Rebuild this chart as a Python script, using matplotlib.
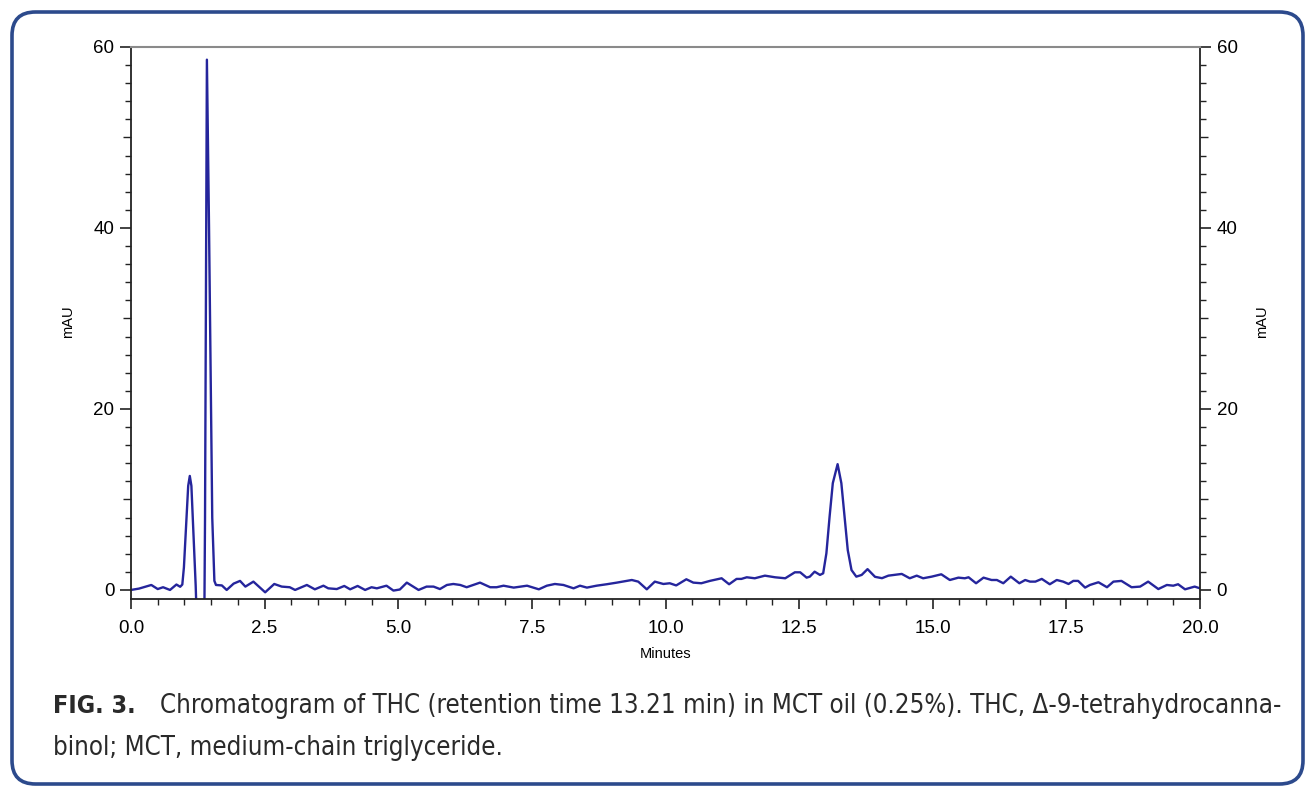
import matplotlib
matplotlib.use("Agg")
import matplotlib.pyplot as plt
from matplotlib.patches import FancyBboxPatch
from matplotlib.ticker import MultipleLocator, FixedLocator
from matplotlib import font_manager
from matplotlib.font_manager import FontProperties
import os

# ---- data ----
minutes = [0.00, 0.15, 0.38, 0.50, 0.60, 0.73, 0.85, 0.92, 0.96, 0.99, 1.03, 1.07, 1.10,
           1.13, 1.17, 1.21, 1.24, 1.37, 1.385, 1.42, 1.46, 1.52, 1.56, 1.59, 1.70, 1.79,
           1.92, 2.04, 2.14, 2.29, 2.51, 2.68, 2.82, 2.97, 3.07, 3.29, 3.44, 3.60, 3.69,
           3.85, 3.99, 4.10, 4.24, 4.38, 4.50, 4.60, 4.78, 4.91, 5.03, 5.16, 5.38, 5.53,
           5.66, 5.78, 5.91, 6.03, 6.16, 6.28, 6.53, 6.72, 6.84, 6.97, 7.16, 7.41, 7.63,
           7.78, 7.93, 8.09, 8.28, 8.40, 8.53, 8.71, 8.90, 9.09, 9.37, 9.49, 9.65, 9.80,
           9.96, 10.08, 10.20, 10.39, 10.52, 10.67, 10.83, 11.05, 11.19, 11.33, 11.42,
           11.52, 11.67, 11.86, 12.05, 12.24, 12.42, 12.52, 12.64, 12.70, 12.79, 12.89,
           12.95, 13.01, 13.07, 13.13, 13.22, 13.29, 13.35, 13.41, 13.48, 13.57, 13.67,
           13.78, 13.92, 14.05, 14.17, 14.42, 14.57, 14.70, 14.82, 14.98, 15.16, 15.32,
           15.48, 15.60, 15.67, 15.81, 15.95, 16.10, 16.20, 16.32, 16.46, 16.62, 16.73,
           16.82, 16.92, 17.04, 17.19, 17.32, 17.44, 17.54, 17.63, 17.72, 17.85, 17.94,
           18.10, 18.26, 18.38, 18.53, 18.72, 18.88, 19.03, 19.22, 19.38, 19.50, 19.59,
           19.72, 19.90, 20.00]
mau = [0.00, 0.15, 0.55, 0.10, 0.30, 0.00, 0.60, 0.35, 0.60, 2.50, 7.00, 11.50, 12.60,
       11.50, 6.00, 0.50, -5.0, -5.0, 8.00, 58.60, 40.00, 8.00, 1.00, 0.55, 0.50, 0.00,
       0.70, 1.00, 0.37, 0.92, -0.26, 0.66, 0.37, 0.30, 0.00, 0.55, 0.07, 0.47, 0.18,
       0.10, 0.44, 0.07, 0.44, 0.00, 0.30, 0.18, 0.47, -0.07, 0.05, 0.81, 0.00, 0.37,
       0.37, 0.10, 0.55, 0.66, 0.55, 0.30, 0.81, 0.30, 0.30, 0.47, 0.26, 0.47, 0.07,
       0.47, 0.66, 0.55, 0.18, 0.47, 0.26, 0.47, 0.63, 0.81, 1.10, 0.92, 0.07, 0.92,
       0.66, 0.74, 0.50, 1.18, 0.81, 0.74, 1.00, 1.29, 0.63, 1.22, 1.22,
       1.40, 1.29, 1.58, 1.40, 1.29, 1.95, 1.95, 1.36, 1.47, 2.02, 1.66,
       1.84, 4.05, 8.10, 11.80, 13.90, 11.80, 8.10, 4.40, 2.20, 1.47, 1.66,
       2.30, 1.45, 1.30, 1.58, 1.77, 1.29, 1.58, 1.29, 1.47, 1.73, 1.10,
       1.36, 1.29, 1.40, 0.74, 1.36, 1.10, 1.10, 0.74, 1.47, 0.74, 1.10,
       0.92, 0.92, 1.22, 0.63, 1.10, 0.92, 0.66, 1.00, 1.00, 0.26, 0.55,
       0.85, 0.30, 0.92, 1.00, 0.30, 0.37, 0.92, 0.10, 0.55, 0.47, 0.63,
       0.07, 0.37, 0.18]

x_ticks = [0.0, 2.5, 5.0, 7.5, 10.0, 12.5, 15.0, 17.5, 20.0]
x_tick_labels = ["0.0", "2.5", "5.0", "7.5", "10.0", "12.5", "15.0", "17.5", "20.0"]
y_ticks = [0, 20, 40, 60]
x_label = "Minutes"
y_label = "mAU"
caption_bold = "FIG. 3."
caption_line1 = "Chromatogram of THC (retention time 13.21 min) in MCT oil (0.25%). THC, \u0394-9-tetrahydrocanna-"
caption_line2 = "binol; MCT, medium-chain triglyceride."

# ---- fonts ----
def find_font(*fragments):
    for f in font_manager.fontManager.ttflist:
        base = os.path.basename(f.fname)
        if all(fr in base for fr in fragments):
            return f.fname
    return None

cond_reg = None
cond_bold = None
for f in font_manager.fontManager.ttflist:
    b = os.path.basename(f.fname)
    if b == "LiberationSansNarrow-Regular.ttf":
        cond_reg = f.fname
    if b == "LiberationSansNarrow-Bold.ttf":
        cond_bold = f.fname
if cond_reg is None:
    for f in font_manager.fontManager.ttflist:
        b = os.path.basename(f.fname)
        if b == "DejaVuSansCondensed.ttf":
            cond_reg = f.fname
        if b == "DejaVuSansCondensed-Bold.ttf":
            cond_bold = f.fname

def cap_props(bold, size):
    if bold and cond_bold:
        return FontProperties(fname=cond_bold, size=size)
    if (not bold) and cond_reg:
        return FontProperties(fname=cond_reg, size=size)
    return FontProperties(family="DejaVu Sans", weight="bold" if bold else "normal", size=size)

# ---- figure ----
W, H = 1306, 786
fig = plt.figure(figsize=(W / 100, H / 100), dpi=100)
fig.patch.set_facecolor("white")

frame = FancyBboxPatch((12 / W, 2 / H), (W - 15) / W, (H - 14) / H,
                       boxstyle="round,pad=0,rounding_size=0.018",
                       transform=fig.transFigure, fill=False,
                       edgecolor="#2c4a8c", linewidth=2.6, mutation_aspect=W / H)
fig.add_artist(frame)

ax = fig.add_axes([131 / W, 1 - 599 / H, (1200 - 131) / W, (599 - 47) / H])
ax.plot(minutes, mau, color="#25259c", linewidth=1.7, solid_joinstyle="round")
ax.set_xlim(0, 20)
ax.set_ylim(-1, 60)

tick_font = "Liberation Sans"
ax.set_xticks(x_ticks)
ax.set_xticklabels(x_tick_labels, fontsize=13.5, family=tick_font)
ax.xaxis.set_minor_locator(MultipleLocator(0.5))
ax.set_yticks(y_ticks)
ax.set_yticklabels([str(v) for v in y_ticks], fontsize=13.5, family=tick_font)
ax.yaxis.set_minor_locator(FixedLocator([v for v in range(2, 60, 2) if v % 20 != 0]))

ax.tick_params(axis="x", which="major", direction="out", length=7, width=1.2, pad=8, color="#222")
ax.tick_params(axis="x", which="minor", direction="out", length=4, width=1.0, color="#222")
ax.tick_params(axis="y", which="major", direction="out", length=8, width=1.2, pad=4,
               left=True, right=True, labelleft=True, labelright=True, color="#222")
ax.tick_params(axis="y", which="minor", direction="out", length=4, width=1.0,
               left=True, right=True, color="#222")
# medium ticks at 10, 30, 50
for i, tick in enumerate(ax.yaxis.get_minor_ticks()):
    pass
minor_locs = ax.yaxis.get_minorticklocs()
for loc, tick in zip(minor_locs, ax.yaxis.get_minor_ticks()):
    if int(round(loc)) % 10 == 0:
        tick.tick1line.set_markersize(6)
        tick.tick2line.set_markersize(6)

for side in ["left", "bottom", "right"]:
    ax.spines[side].set_color("#222")
    ax.spines[side].set_linewidth(1.3)
ax.spines["top"].set_color("#8a8a8a")
ax.spines["top"].set_linewidth(1.5)

ax.set_xlabel(x_label, fontsize=10.5, family=tick_font, labelpad=7)
ax.set_ylabel("")
fig.text(68 / W, 1 - 322 / H, y_label, rotation=90, fontsize=10.5, family=tick_font,
         ha="center", va="center")
fig.text(1262 / W, 1 - 322 / H, y_label, rotation=90, fontsize=10.5, family=tick_font,
         ha="center", va="center")

# caption
cap_color = "#2a2a2a"
base_fs = 18
t_bold = fig.text(53 / W, 1 - 713 / H, caption_bold, fontproperties=cap_props(True, base_fs),
                  color=cap_color, ha="left", va="baseline")
fig.canvas.draw()
r = fig.canvas.get_renderer()
bb = t_bold.get_window_extent(r)
gap = 160 - bb.x1
t1 = fig.text(160 / W, 1 - 713 / H, caption_line1, fontproperties=cap_props(False, base_fs),
              color=cap_color, ha="left", va="baseline")
fig.canvas.draw()
bb1 = t1.get_window_extent(r)
scale = (1280 - 160) / (bb1.x1 - bb1.x0)
fs = base_fs * scale
t1.set_fontproperties(cap_props(False, fs))
fig.text(53 / W, 1 - 755 / H, caption_line2, fontproperties=cap_props(False, fs),
         color=cap_color, ha="left", va="baseline")

fig.savefig("out.png", dpi=100, facecolor="white")
